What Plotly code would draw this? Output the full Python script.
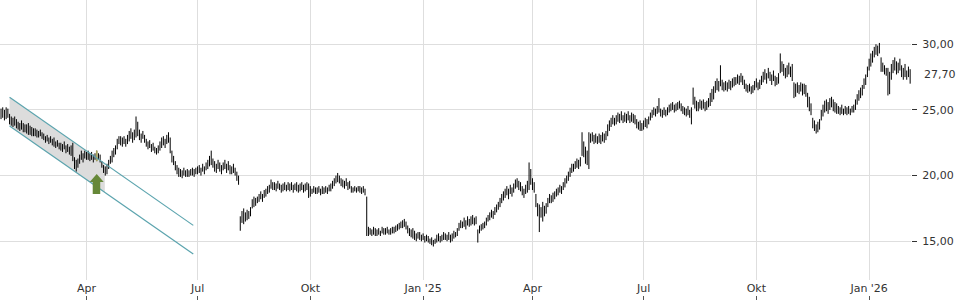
import pandas as pd
import plotly.graph_objects as go

# ---------------- data ----------------
high = [
    25.1, 25.2, 25.0, 25.2, 25.1,  24.7, 24.5, 24.4, 24.5, 24.3,
    24.1, 24.0, 24.2, 24.0, 23.9,  23.9, 24.0, 23.8, 23.7, 23.6,
    23.6, 23.5, 23.4, 23.5, 23.3,  23.2, 23.0, 23.1, 22.9, 23.0,
    22.8, 22.9, 22.6, 22.7, 22.5,  22.5, 22.4, 22.6, 22.3, 22.4,
    22.2, 22.3, 22.5, 21.4, 21.2,  21.3, 21.6, 21.9, 21.7, 21.9,
    21.8, 21.9, 21.7, 21.8, 21.6,  21.7, 21.9, 21.7, 21.6, 21.1,
    20.8, 20.7, 20.9, 21.2, 21.5,  21.9, 22.1, 22.3, 22.8, 23.0,
    23.0, 22.9, 23.0, 22.8, 23.1,  23.4, 23.6, 23.3, 23.5, 24.5,
    24.1, 23.5, 23.2, 23.4, 23.1,  22.8, 22.6, 22.7, 22.4, 22.5,
    22.2, 22.1, 22.3, 22.6, 22.9,  23.0, 22.8, 23.1, 23.3, 22.9,
    21.9, 21.5, 21.1, 20.8, 20.6,  20.5, 20.4, 20.6, 20.4, 20.5,
    20.4, 20.5, 20.6, 20.5, 20.6,  20.7, 20.8, 20.6, 20.9, 20.7,
    21.0, 21.2, 21.5, 21.9, 21.3,  21.1, 20.9, 21.2, 21.0, 20.8,
    21.0, 21.2, 20.9, 21.1, 20.8,  20.7, 20.9, 20.6, 20.3, 20.0,
    16.9, 17.3, 17.5, 17.2, 17.4,  17.3, 17.6, 18.2, 18.4, 18.3,
    18.4, 18.6, 18.8, 18.6, 18.9,  19.0, 19.2, 19.3, 19.7, 19.5,
    19.5, 19.4, 19.6, 19.4, 19.3,  19.4, 19.5, 19.3, 19.5, 19.4,
    19.5, 19.3, 19.4, 19.5, 19.3,  19.4, 19.5, 19.3, 19.4, 19.5,
    19.4, 19.2, 19.0, 19.2, 19.1,  19.1, 19.2, 19.0, 19.2, 19.1,
    19.2, 19.1, 19.3, 19.4, 19.6,  19.8, 20.0, 20.2, 20.0, 19.8,
    19.7, 19.6, 19.8, 19.5, 19.6,  19.2, 19.1, 19.2, 19.1, 19.2,
    19.2, 19.1, 19.2, 19.0, 18.4,  16.1, 16.0, 15.9, 16.1, 16.0,
    15.9, 16.0, 15.8, 16.1, 16.0,  16.0, 16.1, 15.9, 16.0, 16.1,
    16.1, 16.2, 16.3, 16.4, 16.5,  16.6, 16.7, 16.5, 16.2, 16.0,
    15.9, 16.0, 15.8, 15.6, 15.7,  15.7, 15.5, 15.6, 15.4, 15.5,
    15.4, 15.2, 15.3, 15.1, 15.2,  15.5, 15.6, 15.4, 15.5, 15.7,
    15.6, 15.5, 15.7, 15.5, 15.6,  15.8, 15.7, 16.0, 16.4, 16.6,
    16.5, 16.8, 16.6, 16.9, 16.7,  16.9, 17.0, 16.8, 16.9, 15.9,
    16.2, 16.3, 16.4, 16.5, 16.8,  17.0, 17.2, 17.4, 17.3, 17.6,
    17.8, 18.0, 18.3, 18.6, 18.8,  19.0, 19.2, 19.0, 19.3, 19.1,
    19.4, 19.7, 19.8, 19.6, 19.5,  19.2, 19.0, 19.3, 19.6, 21.0,
    20.5, 19.8, 19.5, 18.6, 17.9,  17.8, 17.6, 18.0, 17.7, 17.9,
    18.3, 18.6, 18.5, 18.7, 18.8,  19.0, 19.1, 19.3, 19.2, 19.5,
    19.8, 20.0, 20.3, 20.6, 20.9,  20.9, 21.1, 21.3, 21.2, 21.4,
    23.3, 22.6, 22.2, 21.9, 23.3,  23.2, 23.3, 23.1, 23.2, 23.0,
    23.2, 23.1, 23.3, 23.2, 23.4,  23.9, 24.2, 24.4, 24.6, 24.4,
    24.6, 24.8, 24.7, 24.9, 24.6,  24.8, 24.7, 24.9, 24.6, 24.8,
    24.7, 24.6, 24.3, 24.1, 24.2,  24.0, 24.2, 24.4, 24.3, 24.5,
    24.8, 25.0, 25.2, 25.1, 25.3,  25.9, 25.1, 25.0, 25.2, 25.0,
    25.2, 25.4, 25.5, 25.6, 25.4,  25.5, 25.6, 25.7, 25.5, 25.3,
    25.2, 25.1, 25.3, 25.0, 25.2,  26.7, 26.0, 25.7, 25.6, 25.8,
    25.7, 25.8, 25.6, 25.7, 25.9,  26.3, 26.6, 26.8, 27.2, 27.4,
    27.2, 28.4, 27.3, 27.1, 27.2,  27.1, 27.3, 27.2, 27.4, 27.5,
    27.5, 27.7, 27.6, 27.8, 27.6,  27.3, 27.0, 26.9, 27.0, 26.8,
    26.9, 27.2, 27.4, 27.1, 27.3,  27.6, 27.9, 28.1, 27.8, 28.2,
    27.9, 27.7, 28.0, 27.6, 27.5,  27.8, 29.3, 28.7, 28.5, 28.2,
    28.4, 28.6, 28.3, 28.5, 27.1,  27.0, 27.1, 26.9, 27.1, 27.0,
    27.0, 26.9, 26.3, 26.0, 25.5,  24.4, 24.2, 23.9, 24.1, 24.3,
    25.0, 25.4, 25.7, 25.8, 25.6,  25.9, 26.0, 25.8, 25.6, 25.5,
    25.3, 25.2, 25.4, 25.1, 25.3,  25.2, 25.3, 25.1, 25.3, 25.4,
    25.8, 26.2, 26.5, 26.7, 26.9,  27.4, 27.7, 28.3, 28.9, 29.3,
    29.5, 29.8, 30.0, 29.9, 30.1,  29.0, 28.6, 28.4, 28.2, 28.2,
    27.9, 28.5, 28.8, 29.0, 28.7,  28.6, 28.9, 28.4, 28.2, 28.5,
    28.0, 28.3, 28.1,
]
low = [
    24.3, 24.4, 24.2, 24.3, 24.4,  23.9, 23.8, 23.7, 23.8, 23.6,
    23.5, 23.4, 23.5, 23.3, 23.3,  23.2, 23.1, 23.1, 23.0, 23.0,
    23.0, 22.9, 22.9, 23.0, 22.8,  22.7, 22.5, 22.6, 22.4, 22.5,
    22.3, 22.2, 22.1, 22.2, 22.0,  21.9, 21.8, 22.0, 21.7, 21.8,
    21.6, 21.5, 21.1, 20.5, 20.3,  20.6, 20.9, 21.2, 21.0, 21.3,
    21.2, 21.2, 21.1, 21.2, 21.0,  21.2, 21.1, 21.2, 21.0, 20.6,
    20.2, 20.0, 20.1, 20.5, 20.9,  21.0, 21.4, 21.6, 22.0, 22.4,
    22.3, 22.2, 22.4, 22.2, 22.4,  22.6, 22.8, 22.5, 22.7, 22.9,
    23.0, 22.7, 22.5, 22.8, 22.5,  22.2, 22.0, 22.1, 21.8, 21.9,
    21.7, 21.6, 21.7, 21.9, 22.1,  22.3, 22.1, 22.4, 22.5, 21.7,
    21.0, 20.8, 20.4, 20.1, 19.9,  19.9, 19.8, 20.0, 19.9, 19.9,
    19.9, 20.0, 20.0, 19.9, 20.1,  20.1, 20.2, 20.0, 20.3, 20.1,
    20.4, 20.5, 20.7, 20.8, 20.6,  20.3, 20.2, 20.5, 20.3, 20.1,
    20.4, 20.5, 20.2, 20.4, 20.1,  20.1, 20.2, 20.0, 19.6, 19.3,
    15.8, 16.4, 16.3, 16.5, 16.6,  16.7, 16.9, 17.5, 17.6, 17.7,
    17.9, 18.0, 18.2, 18.0, 18.3,  18.4, 18.6, 18.7, 19.0, 18.9,
    18.9, 18.8, 19.0, 18.9, 18.7,  18.8, 18.9, 18.8, 18.9, 18.8,
    18.9, 18.7, 18.9, 18.8, 18.7,  18.8, 18.9, 18.7, 18.8, 18.9,
    18.3, 18.4, 18.6, 18.7, 18.6,  18.6, 18.7, 18.5, 18.6, 18.6,
    18.7, 18.6, 18.8, 18.8, 19.0,  19.2, 19.4, 19.5, 19.4, 19.2,
    19.1, 19.0, 19.2, 18.9, 19.0,  18.7, 18.7, 18.8, 18.7, 18.8,
    18.7, 18.6, 18.7, 18.5, 15.4,  15.4, 15.5, 15.4, 15.5, 15.4,
    15.4, 15.5, 15.4, 15.6, 15.5,  15.5, 15.6, 15.5, 15.5, 15.6,
    15.6, 15.7, 15.8, 15.9, 16.0,  16.0, 16.1, 15.9, 15.6, 15.4,
    15.3, 15.2, 15.1, 15.0, 15.2,  15.1, 15.0, 15.1, 14.9, 15.0,
    14.9, 14.8, 14.7, 14.6, 14.8,  14.9, 15.0, 14.9, 15.0, 15.1,
    15.1, 15.0, 15.1, 14.9, 15.0,  15.2, 15.3, 15.4, 15.8, 16.0,
    16.0, 16.1, 15.9, 16.2, 16.1,  16.2, 16.3, 16.2, 16.3, 14.9,
    15.6, 15.8, 15.9, 16.0, 16.2,  16.5, 16.6, 16.8, 16.7, 17.0,
    17.2, 17.4, 17.6, 17.9, 18.1,  18.3, 18.5, 18.2, 18.6, 18.4,
    18.7, 19.0, 19.1, 18.9, 18.8,  18.5, 18.3, 18.6, 18.7, 18.9,
    19.3, 18.9, 18.7, 17.6, 16.9,  15.7, 16.8, 16.5, 16.9, 17.1,
    17.6, 17.9, 17.9, 18.0, 18.2,  18.4, 18.5, 18.7, 18.6, 18.9,
    19.1, 19.4, 19.6, 19.9, 20.2,  20.3, 20.5, 20.6, 20.5, 20.7,
    21.5, 21.4, 20.9, 20.8, 20.5,  22.5, 22.6, 22.4, 22.5, 22.4,
    22.5, 22.4, 22.6, 22.5, 22.7,  23.0, 23.4, 23.7, 23.9, 23.8,
    23.9, 24.1, 24.0, 24.2, 24.0,  24.1, 24.0, 24.2, 24.0, 24.1,
    24.0, 23.9, 23.6, 23.5, 23.4,  23.4, 23.5, 23.7, 23.6, 23.9,
    24.2, 24.4, 24.6, 24.5, 24.7,  24.8, 24.5, 24.4, 24.6, 24.5,
    24.6, 24.8, 24.9, 25.0, 24.8,  24.9, 25.0, 25.1, 24.9, 24.7,
    24.6, 24.5, 24.6, 24.4, 23.9,  25.4, 25.1, 24.9, 24.9, 25.1,
    25.0, 25.1, 24.9, 25.0, 25.2,  25.3, 25.6, 25.8, 26.3, 26.5,
    26.4, 26.8, 26.5, 26.4, 26.5,  26.4, 26.6, 26.5, 26.7, 26.8,
    26.9, 27.0, 26.9, 27.1, 26.9,  26.6, 26.4, 26.3, 26.4, 26.2,
    26.3, 26.5, 26.7, 26.5, 26.6,  26.9, 27.1, 27.3, 27.0, 27.4,
    27.2, 26.9, 27.2, 26.8, 26.9,  27.0, 27.8, 27.9, 27.6, 27.4,
    27.5, 27.7, 27.5, 27.2, 25.9,  26.0, 26.3, 26.2, 26.4, 26.1,
    26.2, 26.0, 25.2, 24.9, 24.6,  23.6, 23.4, 23.2, 23.3, 23.5,
    24.2, 24.5, 24.8, 24.9, 24.7,  25.0, 25.2, 24.9, 24.8, 24.7,
    24.7, 24.6, 24.7, 24.6, 24.7,  24.6, 24.7, 24.6, 24.8, 24.8,
    25.0, 25.4, 25.7, 25.9, 26.1,  26.6, 26.9, 27.5, 28.0, 28.3,
    28.6, 29.0, 29.2, 29.1, 29.3,  27.9, 27.9, 27.7, 27.6, 26.1,
    26.2, 27.3, 27.8, 28.0, 27.7,  27.8, 28.0, 27.5, 27.3, 27.5,
    27.3, 27.5, 27.0,
]
first_date = "2024-01-22"

tick_dates = ["2024-04-01", "2024-07-01", "2024-10-01", "2025-01-01",
              "2025-04-01", "2025-07-01", "2025-10-01", "2026-01-01"]
tick_labels = ["Apr", "Jul", "Okt", "Jan '25", "Apr", "Jul", "Okt", "Jan '26"]

y_ticks = [15, 20, 25, 30]
y_tick_labels = ["15,00", "20,00", "25,00", "30,00"]
last_price = 27.70
last_price_label = "27,70"

# trend channel (downward)
channel_dates = ["2024-01-29", "2024-06-26 12:00"]
channel_upper = [25.96, 16.21]
channel_lower = [23.77, 14.03]
fill_dates = ["2024-01-29", "2024-04-15 18:00"]
fill_upper = [25.96, 20.88]
fill_lower = [23.77, 18.70]

# breakout signal
signal_date = "2024-04-09"
signal_arrow_tip = 20.12

# ---------------- figure ----------------
dates = pd.bdate_range(first_date, periods=len(high))

bx, by = [], []
for d, h, l in zip(dates, high, low):
    bx += [d, d, None]
    by += [l, h, None]

sig_i = list(dates).index(pd.Timestamp(signal_date))

x_range = ["2024-01-19 09:36", "2026-02-04 12:00"]
breaks = [dict(bounds=["sat", "mon"])]
font = dict(family="DejaVu Sans", size=11, color="#333333")

fig = go.Figure()

# channel fill
fig.add_trace(go.Scatter(
    x=[fill_dates[0], fill_dates[1], fill_dates[1], fill_dates[0]],
    y=[fill_upper[0], fill_upper[1], fill_lower[1], fill_lower[0]],
    fill="toself", fillcolor="#dcdcdc", mode="lines",
    line=dict(width=0), hoverinfo="skip", showlegend=False))

# bars
fig.add_trace(go.Scatter(
    x=bx, y=by, mode="lines", line=dict(color="black", width=1.0),
    hoverinfo="skip", showlegend=False))

# highlighted signal bar
fig.add_trace(go.Scatter(
    x=[dates[sig_i], dates[sig_i]], y=[low[sig_i], high[sig_i]],
    mode="lines", line=dict(color="#a8a458", width=1.6),
    hoverinfo="skip", showlegend=False))

# channel lines
for vals in (channel_upper, channel_lower):
    fig.add_trace(go.Scatter(
        x=channel_dates, y=vals, mode="lines",
        line=dict(color="#5ba4ae", width=1.2),
        hoverinfo="skip", showlegend=False))

# dummy trace for bottom tick axis
fig.add_trace(go.Scatter(
    x=[dates[0]], y=[high[0]], xaxis="x2", mode="markers",
    marker=dict(opacity=0), hoverinfo="skip", showlegend=False))

# arrow
fig.add_shape(
    type="path", xref="x", yref="y",
    xsizemode="pixel", ysizemode="pixel",
    xanchor=signal_date, yanchor=signal_arrow_tip,
    path="M0,0 L7,-8 L3.5,-8 L3.5,-20 L-4,-20 L-4,-8 L-7,-8 Z",
    fillcolor="#668838", line=dict(width=0), layer="above")

fig.add_annotation(
    x=1, xref="paper", xanchor="left", xshift=11,
    y=last_price, yref="y", yanchor="middle",
    text=last_price_label, showarrow=False, font=font)

fig.update_layout(
    width=960, height=300,
    margin=dict(l=0, r=49, t=0, b=0),
    paper_bgcolor="white", plot_bgcolor="white",
    showlegend=False,
    xaxis=dict(
        type="date", range=x_range, rangebreaks=breaks,
        tickmode="array", tickvals=tick_dates, ticktext=tick_labels,
        showgrid=True, gridcolor="#dedede", gridwidth=1,
        ticks="", showline=False, zeroline=False,
        tickfont=font, automargin=False, anchor="y"),
    xaxis2=dict(
        type="date", range=x_range, rangebreaks=breaks,
        overlaying="x", anchor="free", position=0,
        tickmode="array", tickvals=tick_dates,
        ticks="inside", ticklen=4, tickcolor="#555555", tickwidth=1,
        showticklabels=False, showgrid=False, showline=False,
        zeroline=False, automargin=False),
    yaxis=dict(
        domain=[20 / 300, 1], side="right",
        range=[12.05, 33.37],
        tickmode="array", tickvals=y_ticks, ticktext=y_tick_labels,
        showgrid=True, gridcolor="#dedede", gridwidth=1,
        ticks="outside", ticklen=5, tickcolor="#333333",
        ticklabelstandoff=3,
        showline=False, zeroline=False, tickfont=font, automargin=False),
)

fig.write_html("out.html")
